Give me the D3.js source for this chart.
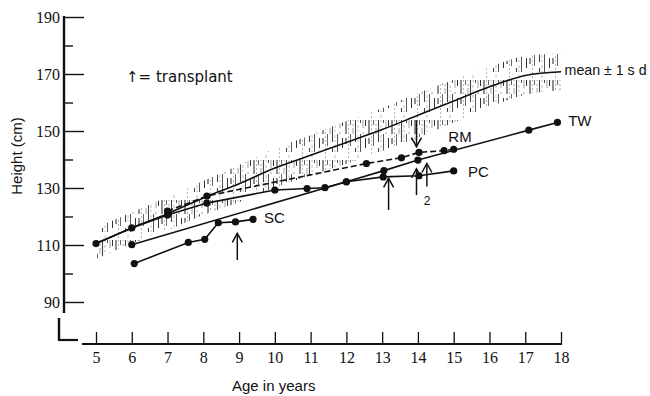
<!DOCTYPE html>
<html><head><meta charset="utf-8">
<script src="https://cdn.jsdelivr.net/npm/d3@7"></script>
<style>body{margin:0;background:#fff}</style>
</head><body>
<svg id="c" width="650" height="396"></svg>
<script>
// ---- data ----
const ages = [5,6,7,8,9,10,11,12,13,14,15,16,17,18];
const meanHeight = [110.5,116,121,126.5,131.5,137,141.5,146,150.5,155.5,160.5,165.5,169.5,170.8];
const sdHeight   = [5.5,5.5,5.8,6,6.5,6.8,7,7.5,7.5,7.8,7.5,7,6.8,6.5];

const twAge    = [5,6,7,8.1,10,10.9,11.4,12,13.05,14,17.1,17.9];
const twHeight = [110.5,116,120.5,124.7,129.3,129.8,130.1,132.2,136.1,139.8,150.3,153];

const rmAge    = [7,8.1,12.56,13.54,14.03,14.73,15];
const rmHeight = [121.9,127.2,138.6,140.6,142.5,143.1,143.6];

const pcAge    = [6,12,13.03,14.03,15];
const pcHeight = [110.1,132.2,133.9,134.3,136];

const scAge    = [6.07,7.58,8.04,8.42,8.9,9.39];
const scHeight = [103.5,110.9,112,117.8,118.1,119];

// transplant arrows: age, base height, tip height
const arrowAge  = [8.95,13.18,13.96,14.25,13.96];
const arrowBase = [104.7,122.3,127.5,130.5,153.8];
const arrowTip  = [114.1,133.4,136.7,138.6,144.5];

const yMajor = [90,110,130,150,170,190];
const yMinor = [100,120,140,160,180];

const seriesLabels = [
  {text:"mean \u00B1 1 s d", age:18.1, h:171.5, len:82},
  {text:"TW", age:18.2, h:153.5, len:null},
  {text:"RM", age:14.85, h:148, len:null},
  {text:"PC", age:15.4, h:135.8, len:null},
  {text:"SC", age:9.7, h:119.5, len:null}
];

// ---- drawing ----
const svg = d3.select("#c");
const x = d3.scaleLinear().domain([5,18]).range([96,561]);
const y = d3.scaleLinear().domain([90,190]).range([302,17]);
const ink = "#111";

// irregular vertical hatching pattern
const defs = svg.append("defs");
const pat = defs.append("pattern").attr("id","hatch")
  .attr("patternUnits","userSpaceOnUse").attr("width",23).attr("height",40);
const hatchLines = [
  [1,"#333",1.1,"14,4,6,16"],
  [3.5,"#aaa",0.9,"2,2"],
  [5.5,"#666",1,"5,9,12,14"],
  [8,"#999",0.9,"1,3,2,2,6,26"],
  [10.5,"#444",1.1,"22,6,4,8"],
  [13,"#bbb",0.9,"2,3,3,2"],
  [15.5,"#555",1,"3,11,18,8"],
  [18,"#999",0.9,"8,4,2,26"],
  [20.5,"#333",1,"6,12,10,12"]
];
hatchLines.forEach(h=>{
  pat.append("line").attr("x1",h[0]).attr("x2",h[0]).attr("y1",0).attr("y2",40)
    .attr("stroke",h[1]).attr("stroke-width",h[2]).attr("stroke-dasharray",h[3]);
});

const meanData = ages.map((a,i)=>({a, m:meanHeight[i], s:sdHeight[i]}));

// sd band
svg.append("path").datum(meanData)
  .attr("d", d3.area().x(d=>x(d.a)).y0(d=>y(d.m-d.s)).y1(d=>y(d.m+d.s)).curve(d3.curveMonotoneX))
  .attr("fill","url(#hatch)");

// mean line
svg.append("path").datum(meanData)
  .attr("d", d3.line().x(d=>x(d.a)).y(d=>y(d.m)).curve(d3.curveMonotoneX))
  .attr("fill","none").attr("stroke",ink).attr("stroke-width",1.6);

// axes
const xAxis = svg.append("g").attr("transform","translate(0,344)")
  .call(d3.axisBottom(x).tickValues(ages).tickSize(-12).tickSizeOuter(0).tickPadding(8));
xAxis.select(".domain").remove();
xAxis.selectAll(".tick line").attr("stroke",ink).attr("stroke-width",1.3);
xAxis.selectAll(".tick text").attr("font-family","'Liberation Serif', serif").attr("font-size",16).attr("fill",ink);
svg.append("line").attr("x1",82).attr("x2",562).attr("y1",344).attr("y2",344).attr("stroke",ink).attr("stroke-width",2);
svg.append("line").attr("x1",58).attr("x2",78).attr("y1",340).attr("y2",340).attr("stroke",ink).attr("stroke-width",2.2);

const yAxis = svg.append("g").attr("transform","translate(64,0)")
  .call(d3.axisLeft(y).tickValues(yMajor).tickSize(-20).tickSizeOuter(0).tickPadding(4));
yAxis.select(".domain").remove();
yAxis.selectAll(".tick line").attr("stroke",ink).attr("stroke-width",1.4);
yAxis.selectAll(".tick text").attr("font-family","'Liberation Serif', serif").attr("font-size",16).attr("fill",ink);
const yMin = svg.append("g").attr("transform","translate(64,0)")
  .call(d3.axisLeft(y).tickValues(yMinor).tickSize(-9).tickFormat(""));
yMin.select(".domain").remove();
yMin.selectAll(".tick line").attr("stroke",ink).attr("stroke-width",1.4);
svg.append("line").attr("x1",64).attr("x2",64).attr("y1",y(190)-1).attr("y2",313).attr("stroke",ink).attr("stroke-width",2.4);
svg.append("line").attr("x1",59).attr("x2",59).attr("y1",318).attr("y2",341).attr("stroke",ink).attr("stroke-width",2.4);

// patient lines
const line = d3.line().x(d=>x(d[0])).y(d=>y(d[1]));
const series = [
  {age:twAge, h:twHeight, dash:null},
  {age:rmAge, h:rmHeight, dash:"6,3"},
  {age:pcAge, h:pcHeight, dash:null},
  {age:scAge, h:scHeight, dash:null}
];
series.forEach(s=>{
  const pts = s.age.map((a,i)=>[a,s.h[i]]);
  svg.append("path").datum(pts).attr("d",line)
    .attr("fill","none").attr("stroke",ink).attr("stroke-width",1.6)
    .attr("stroke-dasharray",s.dash);
  svg.append("g").selectAll("circle").data(pts).join("circle")
    .attr("cx",d=>x(d[0])).attr("cy",d=>y(d[1])).attr("r",3.6).attr("fill",ink);
});

// transplant arrows
arrowAge.forEach((a,i)=>{
  const ax = x(a), yb = y(arrowBase[i]), yt = y(arrowTip[i]);
  const dir = yt < yb ? 1 : -1;
  const g = svg.append("g").attr("stroke",ink).attr("stroke-width",1.5).attr("fill","none");
  g.append("line").attr("x1",ax).attr("x2",ax).attr("y1",yb).attr("y2",yt);
  g.append("polyline").attr("points",[[ax-5,yt+9*dir],[ax,yt],[ax+5,yt+9*dir]].map(p=>p.join(",")).join(" "));
});

// texts
const sans = "'Liberation Sans', Arial, sans-serif";
seriesLabels.forEach(l=>{
  const t = svg.append("text").attr("x",x(l.age)).attr("y",y(l.h)).attr("dy","0.35em")
    .attr("font-family",sans).attr("font-size",15).attr("fill",ink).text(l.text);
  if (l.len) t.attr("textLength",l.len).attr("lengthAdjust","spacingAndGlyphs");
});
svg.append("text").attr("x",x(14.25)-3).attr("y",y(125.5)).attr("dy","0.35em")
  .attr("font-family",sans).attr("font-size",12).attr("fill",ink).text("2");
svg.append("text").attr("x",126).attr("y",77).attr("dy","0.35em")
  .attr("font-family","'DejaVu Sans', sans-serif").attr("font-size",15).attr("fill",ink).text("\u2191= transplant");
svg.append("text").attr("x",232).attr("y",386).attr("dy","0.35em")
  .attr("font-family",sans).attr("font-size",15).attr("fill",ink).text("Age in years");
svg.append("text").attr("transform","translate(22,156) rotate(-90)").attr("text-anchor","middle")
  .attr("font-family",sans).attr("font-size",15).attr("fill",ink).text("Height (cm)");
</script>
</body></html>
